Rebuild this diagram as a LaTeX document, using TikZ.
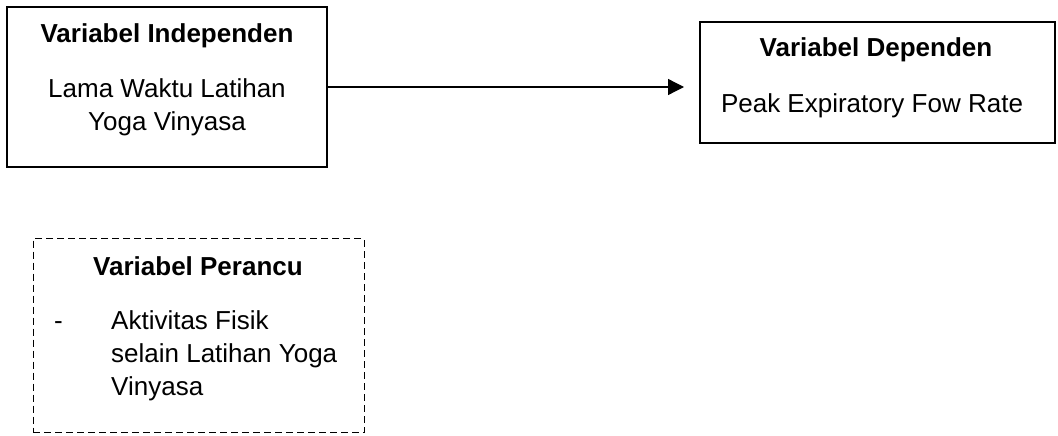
\documentclass[tikz,border=0pt]{standalone}
\usepackage{fontspec}
\setmainfont{Liberation Sans}
\usetikzlibrary{arrows.meta}
\begin{document}
\begin{tikzpicture}[x=1pt,y=-1pt,
  box/.style={draw,line width=1.4pt,inner sep=0pt},
  dbox/.style={draw,line width=1pt,dash pattern=on 7pt off 4pt,inner sep=0pt},
  txt/.style={anchor=base,inner sep=0pt,font=\fontsize{26}{31}\selectfont},
  txtw/.style={anchor=base west,inner sep=0pt,font=\fontsize{26}{31}\selectfont},
  ttl/.style={anchor=base,inner sep=0pt,font=\fontsize{26}{31}\selectfont\bfseries},
  arr/.style={line width=1.3pt,-{Triangle[length=16pt,width=16pt]}}]
\useasboundingbox (0,0) rectangle (1058,436);
% boxes
\node[box,minimum width=320pt,minimum height=160pt] (indep) at (167,87) {};
\node[box,minimum width=355pt,minimum height=121pt] (dep) at (877.5,82.5) {};
\node[dbox,minimum width=331pt,minimum height=194pt] (conf) at (198.5,335.5) {};
% texts
\node[ttl] (indepT) at (167,43) {Variabel Independen};
\node[txt] (indepA) at (167,98) {Lama Waktu Latihan};
\node[txt] (indepB) at (167,130) {Yoga Vinyasa};
\node[ttl] (depT) at (876,57) {Variabel Dependen};
\node[txt] (depA) at (872,113) {Peak Expiratory Fow Rate};
\node[ttl] (confT) at (198,275) {Variabel Perancu};
\node[txtw] (confD) at (54,329) {-};
\node[txtw] (confA) at (111,329) {Aktivitas Fisik};
\node[txtw] (confB) at (111,362) {selain Latihan Yoga};
\node[txtw] (confC) at (111,395) {Vinyasa};
% connector
\coordinate (tip) at (684,87);
\draw[arr] (indep.east) -- (tip);
\end{tikzpicture}
\end{document}
